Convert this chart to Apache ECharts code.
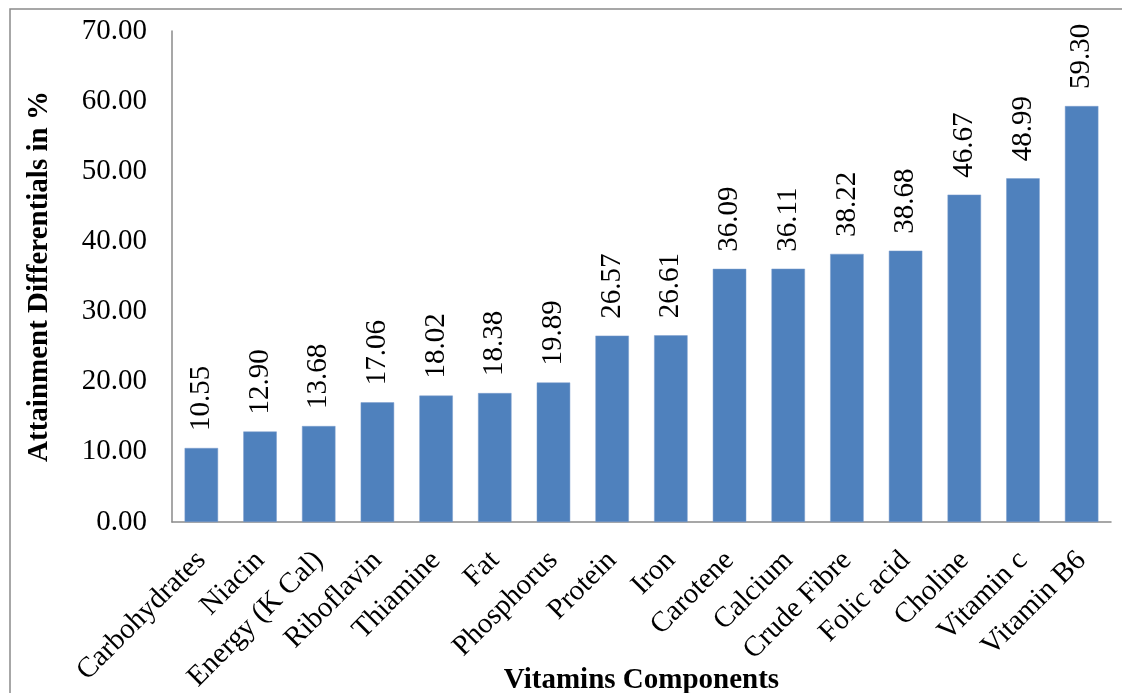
<!DOCTYPE html>
<html>
<head>
<meta charset="utf-8">
<script src="https://cdn.jsdelivr.net/npm/echarts@6/dist/echarts.min.js"></script>
<style>
  html, body { margin: 0; padding: 0; background: #fff; }
  #chart { width: 1122px; height: 693px; }
</style>
</head>
<body>
<div id="chart"></div>
<script>
// Nutrient components, sorted by attainment differential
const categories = [
  'Carbohydrates', 'Niacin', 'Energy (K Cal)', 'Riboflavin', 'Thiamine', 'Fat',
  'Phosphorus', 'Protein', 'Iron', 'Carotene', 'Calcium', 'Crude Fibre',
  'Folic acid', 'Choline', 'Vitamin c', 'Vitamin B6'
];
const differentials = [
  10.55, 12.90, 13.68, 17.06, 18.02, 18.38, 19.89, 26.57,
  26.61, 36.09, 36.11, 38.22, 38.68, 46.67, 48.99, 59.30
];
const yAxisTitle = 'Attainment Differentials in %';
const xAxisTitle = 'Vitamins Components';

const FONT = '"Liberation Serif", "Times New Roman", serif';
const chart = echarts.init(document.getElementById('chart'));

chart.setOption({
  animation: false,
  backgroundColor: '#ffffff',
  textStyle: { fontFamily: FONT, color: '#000' },
  graphic: [{
    type: 'rect',
    silent: true,
    shape: { x: 10, y: 9, width: 1200, height: 800 },
    style: { fill: 'none', stroke: '#8a8a8a', lineWidth: 1.5 }
  }],
  grid: {
    left: 172, right: 11, top: 31, bottom: 171,
    containLabel: false,
    outerBoundsMode: 'none'
  },
  xAxis: {
    type: 'category',
    data: categories,
    name: xAxisTitle,
    nameLocation: 'middle',
    nameGap: 144,
    nameMoveOverlap: false,
    nameTextStyle: { fontFamily: FONT, fontSize: 29, fontWeight: 'bold', color: '#000' },
    axisLine: { lineStyle: { color: '#8a8a8a', width: 1.5 } },
    axisTick: { show: false },
    axisLabel: {
      interval: 0,
      rotate: 45,
      margin: 34,
      fontFamily: FONT,
      fontSize: 29,
      color: '#000'
    }
  },
  yAxis: {
    type: 'value',
    min: 0,
    max: 70,
    interval: 10,
    name: yAxisTitle,
    nameLocation: 'middle',
    nameGap: 118,
    nameMoveOverlap: false,
    nameTextStyle: { fontFamily: FONT, fontSize: 29, fontWeight: 'bold', color: '#000' },
    axisLine: { show: true, lineStyle: { color: '#8a8a8a', width: 1.5 } },
    axisTick: { show: false },
    splitLine: { show: false },
    axisLabel: {
      margin: 25,
      fontFamily: FONT,
      fontSize: 29,
      color: '#000',
      formatter: v => v.toFixed(2)
    }
  },
  series: [{
    type: 'bar',
    data: differentials,
    barWidth: '57%',
    itemStyle: { color: '#4F81BD', borderColor: '#7a9dcc', borderWidth: 0.5 },
    label: {
      show: true,
      position: 'top',
      rotate: 90,
      align: 'left',
      verticalAlign: 'middle',
      distance: 17,
      fontFamily: FONT,
      fontSize: 29,
      color: '#000',
      formatter: p => p.value.toFixed(2)
    }
  }]
});
</script>
</body>
</html>
